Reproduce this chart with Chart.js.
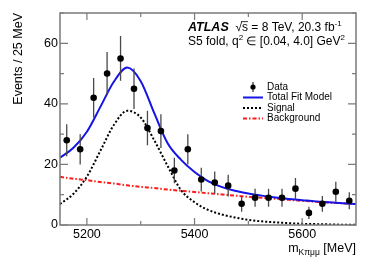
<!DOCTYPE html>
<html>
<head>
<meta charset="utf-8">
<script src="https://cdn.jsdelivr.net/npm/chart.js@4"></script>
<style>
  html, body { margin: 0; padding: 0; background: #fff; }
  #wrap { width: 374px; height: 268px; }
</style>
</head>
<body>
<div id="wrap"><canvas id="chart" width="374" height="268"></canvas></div>
<script>
// bin centres (MeV), 25 MeV bins
const binCentres = [5162.5, 5187.5, 5212.5, 5237.5, 5262.5, 5287.5, 5312.5, 5337.5, 5362.5, 5387.5, 5412.5,
    5437.5, 5462.5, 5487.5, 5512.5, 5537.5, 5562.5, 5587.5, 5612.5, 5637.5, 5662.5, 5687.5];
const counts = [28, 25, 42, 50, 55, 45, 32, 31, 18, 25, 15, 14, 13, 7, 9, 9, 9, 12, 4, 7, 11, 8];
const countErrors = [5.3, 5.0, 6.5, 7.1, 7.4, 6.7, 5.7, 5.6, 4.2, 5.0, 3.9, 3.7, 3.6, 2.6, 3.0, 3.0, 3.0, 3.5,
    2.0, 2.6, 3.3, 2.8];

// curve sample points
const curveMass = [5150, 5175, 5200, 5225, 5250, 5275, 5300, 5325, 5350, 5375, 5400, 5425, 5450, 5475, 5500,
    5525, 5550, 5575, 5600, 5625, 5650, 5675, 5700];
const totalFit = [22.2, 25.5, 30.8, 39.0, 47.3, 52.0, 47.5, 37.0, 27.0, 21.5, 17.5, 14.5, 12.6, 11.3, 10.4,
    9.7, 9.1, 8.6, 8.2, 7.8, 7.5, 7.2, 6.9];
const signal = [6.9, 10.3, 16.0, 24.5, 33.0, 37.7, 35.5, 28.0, 19.5, 11.5, 7.5, 5.0, 3.5, 2.5, 1.7,
    1.2, 0.9, 0.6, 0.4, 0.3, 0.2, 0.1, 0.1];
const background = [15.9, 15.3, 14.8, 14.2, 13.7, 13.1, 12.6, 12.2, 11.7, 11.3, 10.9, 10.5, 10.1, 9.7, 9.3,
    9.0, 8.7, 8.3, 8.0, 7.7, 7.4, 7.2, 6.9];

const xMajorTicks = [5200, 5400, 5600];
const xMinorTicks = [5300, 5500];
const yMajorTicks = [0, 20, 40, 60];
const yMinorTicks = [10, 30, 50, 70];

const FONT = '"Liberation Sans", Arial, Helvetica, sans-serif';
const FRAME = '#7a7a7a';

const pts = (xs, ys) => xs.map((x, i) => ({ x: x, y: ys[i] }));

const errorBarData = [];
binCentres.forEach((x, i) => {
    errorBarData.push({ x: x, y: counts[i] - countErrors[i] });
    errorBarData.push({ x: x, y: counts[i] + countErrors[i] });
    errorBarData.push({ x: x, y: null });
});

function drawRich(ctx, parts, x, y) {
    let cx = x;
    parts.forEach(p => {
        ctx.font = (p.style || '') + ' ' + p.size + 'px ' + FONT;
        ctx.fillText(p.text, cx, y + (p.dy || 0));
        const w = ctx.measureText(p.text).width;
        if (p.overline) {
            ctx.beginPath();
            ctx.lineWidth = 0.8;
            ctx.moveTo(cx - 1, y - p.size * 0.78);
            ctx.lineTo(cx + w, y - p.size * 0.78);
            ctx.stroke();
        }
        cx += w;
    });
    return cx - x;
}

function richWidth(ctx, parts) {
    let w = 0;
    parts.forEach(p => {
        ctx.font = (p.style || '') + ' ' + p.size + 'px ' + FONT;
        w += ctx.measureText(p.text).width;
    });
    return w;
}

const decorations = {
    id: 'decorations',
    afterDraw(chart) {
        const ctx = chart.ctx;
        const area = chart.chartArea;
        const xs = chart.scales.x;
        const ys = chart.scales.y;
        ctx.save();

        // frame
        ctx.strokeStyle = FRAME;
        ctx.lineWidth = 1.5;
        ctx.strokeRect(area.left, area.top, area.right - area.left, area.bottom - area.top);

        // ticks (inward, on all four sides)
        ctx.lineWidth = 1.2;
        ctx.beginPath();
        const xTick = (v, len) => {
            const px = xs.getPixelForValue(v);
            ctx.moveTo(px, area.bottom); ctx.lineTo(px, area.bottom - len);
            ctx.moveTo(px, area.top); ctx.lineTo(px, area.top + len);
        };
        const yTick = (v, len) => {
            const py = ys.getPixelForValue(v);
            ctx.moveTo(area.left, py); ctx.lineTo(area.left + len, py);
            ctx.moveTo(area.right, py); ctx.lineTo(area.right - len, py);
        };
        xMajorTicks.forEach(v => xTick(v, 7));
        xMinorTicks.forEach(v => xTick(v, 4));
        yMajorTicks.forEach(v => yTick(v, 8));
        yMinorTicks.forEach(v => yTick(v, 4));
        ctx.stroke();

        // tick labels
        ctx.fillStyle = '#000';
        ctx.strokeStyle = '#000';
        ctx.font = '12.5px ' + FONT;
        ctx.textAlign = 'center';
        ctx.textBaseline = 'alphabetic';
        xMajorTicks.forEach(v => ctx.fillText(String(v), xs.getPixelForValue(v), area.bottom + 13));
        ctx.textAlign = 'right';
        ctx.textBaseline = 'middle';
        yMajorTicks.forEach(v => ctx.fillText(String(v), area.left - 2, ys.getPixelForValue(v)));

        // axis titles
        ctx.textBaseline = 'alphabetic';
        ctx.textAlign = 'left';
        const xTitle = [
            { text: 'm', size: 12.5 },
            { text: 'Kπμμ', size: 8.5, dy: 3 },
            { text: ' [MeV]', size: 12.5 }
        ];
        drawRich(ctx, xTitle, area.right - richWidth(ctx, xTitle), area.bottom + 27);

        ctx.save();
        ctx.translate(22, area.top);
        ctx.rotate(-Math.PI / 2);
        ctx.textAlign = 'right';
        ctx.font = '12.5px ' + FONT;
        ctx.fillText('Events / 25 MeV', 0, 0);
        ctx.restore();

        // ATLAS label
        ctx.textAlign = 'left';
        const line1 = [
            { text: 'ATLAS', size: 12.5, style: 'italic bold' },
            { text: '  √', size: 12 },
            { text: 's', size: 12, overline: true },
            { text: ' = 8 TeV, 20.3 fb', size: 12 },
            { text: '-1', size: 8, dy: -5 }
        ];
        drawRich(ctx, line1, 188, 31);
        const line2 = [
            { text: 'S5 fold, q', size: 12 },
            { text: '2', size: 8, dy: -5 },
            { text: ' ∈ [0.04, 4.0] GeV', size: 12 },
            { text: '2', size: 8, dy: -5 }
        ];
        drawRich(ctx, line2, 188, 45);

        // legend
        const lx0 = 243, lx1 = 263, tx = 267;
        const rows = [87, 97.5, 108, 118.5];
        ctx.font = '10px ' + FONT;
        ctx.textBaseline = 'middle';
        ['Data', 'Total Fit Model', 'Signal', 'Background'].forEach((t, i) => ctx.fillText(t, tx, rows[i]));

        ctx.fillStyle = '#000';
        ctx.beginPath();
        ctx.arc(253, rows[0], 2.6, 0, Math.PI * 2);
        ctx.fill();
        ctx.lineWidth = 1;
        ctx.strokeStyle = '#000';
        ctx.beginPath();
        ctx.moveTo(253, rows[0] - 5); ctx.lineTo(253, rows[0] + 5);
        ctx.stroke();

        const sample = (row, colour, dash) => {
            ctx.strokeStyle = colour;
            ctx.lineWidth = 2;
            ctx.setLineDash(dash);
            ctx.beginPath();
            ctx.moveTo(lx0, row); ctx.lineTo(lx1, row);
            ctx.stroke();
        };
        sample(rows[1], '#1414e6', []);
        sample(rows[2], '#000', [2, 2]);
        sample(rows[3], '#ff1a1a', [4, 2, 1.5, 2]);
        ctx.setLineDash([]);
        ctx.restore();
    }
};

new Chart(document.getElementById('chart').getContext('2d'), {
    type: 'scatter',
    data: {
        datasets: [
            {
                label: 'Data',
                data: pts(binCentres, counts),
                showLine: false,
                pointRadius: 3.3,
                pointBackgroundColor: '#000',
                pointBorderWidth: 0,
                order: 0
            },
            {
                label: 'errors',
                data: errorBarData,
                showLine: true,
                spanGaps: false,
                borderColor: '#4a4a4a',
                borderWidth: 1.3,
                pointRadius: 0,
                order: 1
            },
            {
                label: 'Total Fit Model',
                data: pts(curveMass, totalFit),
                showLine: true,
                borderColor: '#1414e6',
                borderWidth: 2,
                pointRadius: 0,
                cubicInterpolationMode: 'monotone',
                order: 2
            },
            {
                label: 'Background',
                data: pts(curveMass, background),
                showLine: true,
                borderColor: '#ff1a1a',
                borderWidth: 2,
                borderDash: [4, 2, 1.5, 2],
                pointRadius: 0,
                cubicInterpolationMode: 'monotone',
                order: 3
            },
            {
                label: 'Signal',
                data: pts(curveMass, signal),
                showLine: true,
                borderColor: '#000',
                borderWidth: 2,
                borderDash: [2, 2],
                pointRadius: 0,
                cubicInterpolationMode: 'monotone',
                order: 4
            }
        ]
    },
    options: {
        responsive: false,
        animation: false,
        events: [],
        layout: { padding: { left: 60, top: 13, right: 18, bottom: 43 } },
        plugins: { legend: { display: false }, tooltip: { enabled: false } },
        scales: {
            x: { type: 'linear', min: 5150, max: 5700, display: false },
            y: { type: 'linear', min: 0, max: 70, display: false }
        }
    },
    plugins: [decorations]
});
</script>
</body>
</html>
